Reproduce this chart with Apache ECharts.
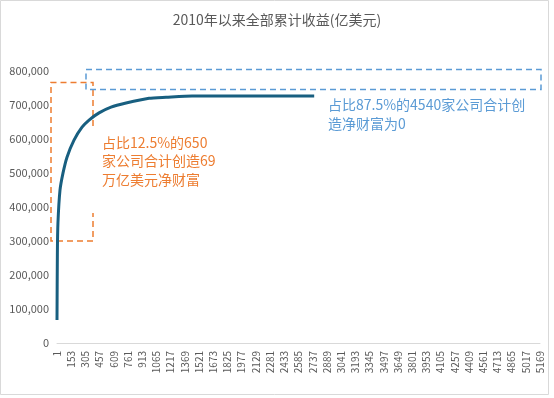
<!DOCTYPE html>
<html>
<head>
<meta charset="utf-8">
<script src="https://cdn.jsdelivr.net/npm/echarts@6/dist/echarts.min.js"></script>
<style>
  html, body { margin: 0; padding: 0; background: #fff; }
  #chart { width: 554px; height: 398px; }
</style>
</head>
<body>
<div id="chart"></div>
<script>
// company rank (0-based) and cumulative earnings
const companyRank = [0, 4, 10, 32, 64, 107, 182, 268, 343, 450, 578, 739, 985, 1167, 1445, 2752];
const cumulativeEarnings = [67600, 264000, 352000, 449000, 499000, 546000, 596000, 634000, 655000, 676000, 693000, 705000, 719000, 722000, 726000, 726000];

const titleText = '2010年以来全部累计收益(亿美元)';
const noteTop = '占比12.5%的650\n家公司合计创造69\n万亿美元净财富';
const noteRest = '占比87.5%的4540家公司合计创\n造净财富为0';

const textColor = '#595959';
const axisColor = '#d9d9d9';
const orange = '#ed7d31';
const blue = '#5b9bd5';
const font = '"Noto Sans CJK SC", "Noto Sans", sans-serif';

const chart = echarts.init(document.getElementById('chart'));

chart.setOption({
  animation: false,
  backgroundColor: '#fff',
  title: {
    text: titleText,
    left: 'center',
    top: 8,
    textStyle: { color: textColor, fontSize: 14, fontWeight: 'normal', fontFamily: font }
  },
  grid: { left: 57, right: 14, top: 70.7, bottom: 55 },
  xAxis: {
    type: 'value',
    min: 0,
    max: 5168,
    interval: 152,
    splitLine: { show: false },
    axisLine: { show: true, lineStyle: { color: axisColor, width: 1 } },
    axisTick: { show: false },
    axisLabel: {
      rotate: 90,
      margin: 8,
      fontSize: 10,
      color: textColor,
      fontFamily: font,
      formatter: v => String(v + 1)
    }
  },
  yAxis: {
    type: 'value',
    min: 0,
    max: 800000,
    interval: 100000,
    splitLine: { show: false },
    axisLine: { show: false },
    axisTick: { show: false },
    axisLabel: {
      margin: 8,
      fontSize: 11,
      color: textColor,
      fontFamily: font,
      formatter: v => v.toLocaleString('en-US')
    }
  },
  series: [{
    type: 'line',
    data: companyRank.map((r, i) => [r, cumulativeEarnings[i]]),
    showSymbol: false,
    smooth: 0.2,
    lineStyle: { color: '#185f80', width: 3 }
  }],
  graphic: [
    {
      type: 'rect',
      shape: { x: 0.5, y: 0.5, width: 548, height: 394 },
      style: { fill: 'none', stroke: axisColor, lineWidth: 1 }
    },
    {
      // orange box around the top 650 companies, open where the curve passes
      type: 'polyline',
      shape: { points: [[93, 126], [93, 82.5], [51, 82.5], [51, 241], [93, 241], [93, 213]] },
      style: { fill: 'none', stroke: orange, lineWidth: 1.5, lineDash: [6, 4] }
    },
    {
      type: 'rect',
      shape: { x: 86, y: 69.5, width: 455, height: 20 },
      style: { fill: 'none', stroke: blue, lineWidth: 1.5, lineDash: [6, 4] }
    },
    {
      type: 'text',
      left: 102,
      top: 133,
      style: { text: noteTop, fill: orange, fontSize: 14, lineHeight: 18.5, fontFamily: font }
    },
    {
      type: 'text',
      left: 328,
      top: 95,
      style: { text: noteRest, fill: blue, fontSize: 14, lineHeight: 19, fontFamily: font }
    }
  ]
});
</script>
</body>
</html>
